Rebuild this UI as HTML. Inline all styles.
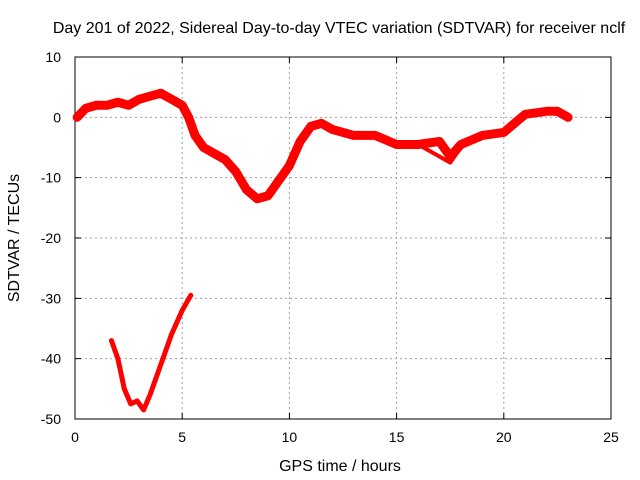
<!DOCTYPE html>
<html><head><meta charset="utf-8"><style>body{margin:0;background:#fff}svg{display:block;font-family:"Liberation Sans",sans-serif}</style></head><body>
<svg id="c" width="640" height="480"></svg>
<script>
const xTicks=[0,5,10,15,20,25];
const yTicks=[10,0,-10,-20,-30,-40,-50];
const dayHours=[0.1,0.5,1,1.5,2,2.5,3,3.5,4,4.5,5,5.3,5.6,6,6.5,7,7.5,8,8.5,9,9.5,10,10.5,11,11.5,12,13,14,15,16,17,17.5,18,19,20,20.5,21,22,22.5,23];
const dayValues=[0,1.5,2,2,2.5,2,3,3.5,4,3,2,0,-3,-5,-6,-7,-9,-12,-13.5,-13,-10.5,-8,-4,-1.5,-1,-2,-3,-3,-4.5,-4.5,-4,-6.5,-4.5,-3,-2.5,-1,0.5,1,1,0];
const loopHours=[16,16.5,17,17.5,18];
const loopValues=[-4.5,-5.5,-6.5,-7.5,-5];
const earlyHours=[1.7,2,2.3,2.6,2.9,3.2,3.5,4,4.5,5,5.4];
const earlyValues=[-37,-40,-45,-47.5,-47,-48.5,-46,-41,-36,-32,-29.5];
const X0=75,X1=611,Y0=57,Y1=419;
const sx=v=>X0+(v-0)/(25-0)*(X1-X0);
const sy=v=>Y0+(10-v)/(10+50)*(Y1-Y0);
const svg=document.getElementById('c');const NS='http://www.w3.org/2000/svg';
function mk(t,a,txt){const e=document.createElementNS(NS,t);for(const k in a)e.setAttribute(k,a[k]);if(txt!=null)e.textContent=txt;svg.appendChild(e);return e;}
xTicks.forEach(t=>{
 if(t>0&&t<25){const g=mk('line',{x1:sx(t),x2:sx(t),y1:Y0,y2:Y1,stroke:'#a0a0a0','stroke-dasharray':'2,3'});
 
 
 const k=mk('path',{d:`M${sx(t)},${Y1}v-6M${sx(t)},${Y0}v6`,stroke:'#000'});
 
 }
 const l=mk('text',{x:sx(t),y:Y1+23,'text-anchor':'middle','font-size':14},t);
 
 
});
yTicks.forEach(t=>{
 if(t<10&&t>-50){const g=mk('line',{x1:X0,x2:X1,y1:sy(t),y2:sy(t),stroke:'#a0a0a0','stroke-dasharray':'2,3'});
 
 
 const k=mk('path',{d:`M${X0},${sy(t)}h6M${X1},${sy(t)}h-6`,stroke:'#000'});
 
 }
 const l=mk('text',{x:X0-14,y:sy(t)+5,'text-anchor':'end','font-size':14},t);
 
 
});
const fr=mk('rect',{x:X0,y:Y0,width:X1-X0,height:Y1-Y0,fill:'none',stroke:'#000'});


function series(hs,vs,w,name){
 const p=mk('polyline',{points:hs.map((h,i)=>sx(h)+','+sy(vs[i])).join(' '),fill:'none',stroke:'#f00','stroke-width':w,'stroke-linejoin':'round','stroke-linecap':'round'});
 
 
}
series(dayHours,dayValues,9,'sdtvar-main-series');
series(loopHours,loopValues,4,'sdtvar-loop-series');
series(earlyHours,earlyValues,5,'sdtvar-early-series');
const t=mk('text',{x:339,y:33,'text-anchor':'middle','font-size':16},'Day 201 of 2022, Sidereal Day-to-day VTEC variation (SDTVAR) for receiver nclf');


const xt=mk('text',{x:340,y:471,'text-anchor':'middle','font-size':16},'GPS time / hours');


const yt=mk('text',{x:19,y:238,'text-anchor':'middle','font-size':16,transform:'rotate(-90 19 238)'},'SDTVAR / TECUs');


</script>
</body></html>
